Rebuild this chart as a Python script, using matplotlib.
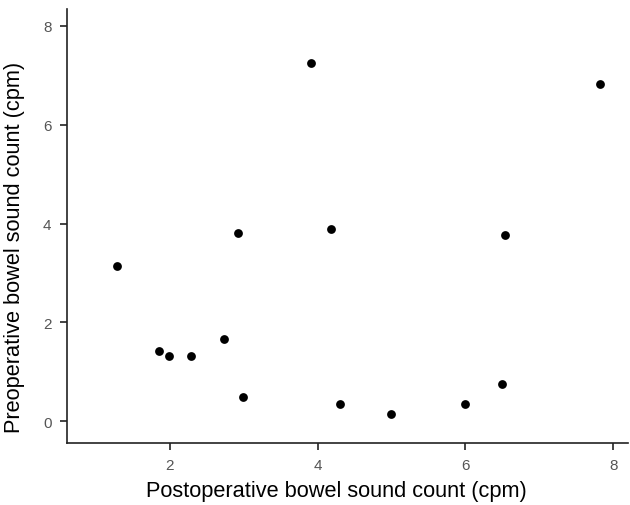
import matplotlib
matplotlib.use("Agg")
import matplotlib.pyplot as plt

plt.rcParams["font.family"] = ["Liberation Sans", "DejaVu Sans"]

# post- vs preoperative bowel sound counts (cpm)
postop = [1.29, 1.855, 1.99, 2.29, 2.73, 2.92, 2.99, 3.91, 4.18, 4.30, 4.99, 5.99, 6.50, 6.54, 7.82]
preop = [3.15, 1.42, 1.33, 1.33, 1.66, 3.81, 0.49, 7.25, 3.89, 0.35, 0.15, 0.34, 0.75, 3.77, 6.82]

fig = plt.figure(figsize=(6.3, 5.06), dpi=100)
ax = fig.add_axes([0.106, 0.1225, 0.891, 0.8575])
ax.scatter(postop, preop, s=40, color="black", linewidths=0, zorder=3)

ax.set_xlim(0.607, 8.2)
ax.set_ylim(-0.44, 8.34)
ax.set_xticks([2, 4, 6, 8])
ax.set_yticks([0, 2, 4, 6, 8])
ax.spines["top"].set_visible(False)
ax.spines["right"].set_visible(False)
for s in ("left", "bottom"):
    ax.spines[s].set_linewidth(1.2)
    ax.spines[s].set_color("#222222")
ax.tick_params(direction="out", length=5, width=1.2, color="#222222",
               labelsize=11, labelcolor="#555555", pad=6)
ax.set_xlabel("Postoperative bowel sound count (cpm)", fontsize=15.7, color="black")
ax.set_ylabel("Preoperative bowel sound count (cpm)", fontsize=15.7, color="black")
ax.xaxis.set_label_coords(0.48, -0.085)
ax.yaxis.set_label_coords(-0.075, 0.452)

fig.savefig("out.png", dpi=100)
